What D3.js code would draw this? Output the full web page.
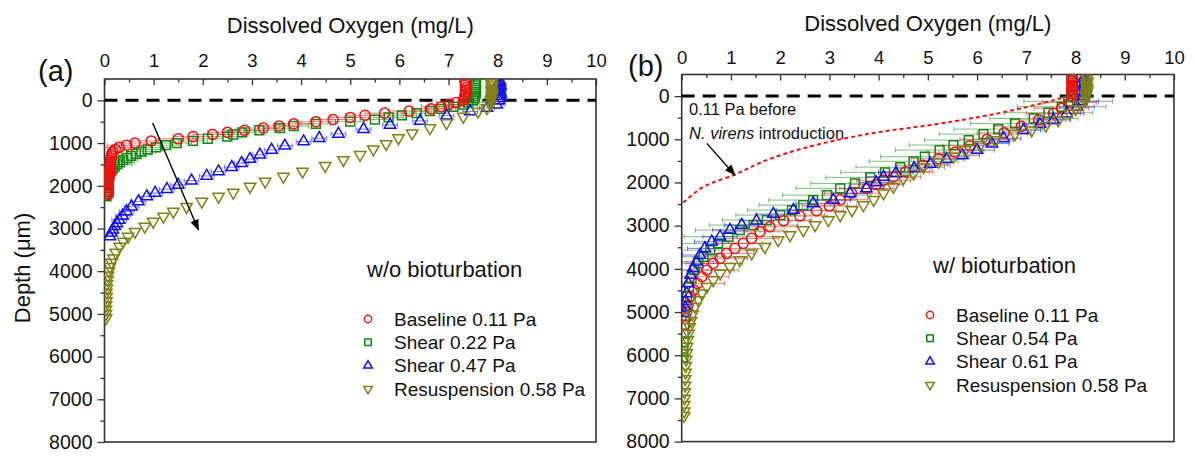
<!DOCTYPE html>
<html>
<head>
<meta charset="utf-8">
<script src="https://cdn.jsdelivr.net/npm/d3@7"></script>
<style>
  body { margin: 0; background: #fff; }
  svg text { font-family: "Liberation Sans", Arial, sans-serif; fill: #111; }
</style>
</head>
<body>
<svg id="chart" width="1195" height="456"></svg>
<script>
// ---- axis ticks ----
const xTicks = [0, 1, 2, 3, 4, 5, 6, 7, 8, 9, 10];
const xMinor = [0.5, 1.5, 2.5, 3.5, 4.5, 5.5, 6.5, 7.5, 8.5, 9.5];
const yTicks = [0, 1000, 2000, 3000, 4000, 5000, 6000, 7000, 8000];
const yMinor = [500, 1500, 2500, 3500, 4500, 5500, 6500, 7500];

// ---- panel (a): w/o bioturbation ----
const labelsA = ['Baseline 0.11 Pa', 'Shear 0.22 Pa', 'Shear 0.47 Pa', 'Resuspension 0.58 Pa'];
const errA = [0.4, 0.3, 0.15, 0];

const depthA1 = [-450,-400,-350,-300,-250,-200,-150,-100,-50,0,50,100,150,200,250,300,350,400,450,500,550,600,650,700,750,800,850,900,950,1000,1050,1100,1150,1200,1250,1300,1350,1400,1450,1500,1550,1600,1650,1700,1750,1800,1850,1900,1950,2000,2050,2100,2150,2200];
const doA1 = [7.33,7.35,7.34,7.36,7.35,7.34,7.35,7.33,7.32,7.3,7.15,7.0,6.85,6.65,6.2,5.7,5.3,5.0,4.65,4.3,3.85,3.55,3.23,2.85,2.5,2.2,1.8,1.5,0.95,0.62,0.45,0.3,0.22,0.17,0.15,0.14,0.13,0.12,0.12,0.11,0.11,0.1,0.1,0.1,0.09,0.09,0.09,0.08,0.08,0.08,0.08,0.08,0.08,0.08];

const depthA2 = [-450,-400,-350,-300,-250,-200,-150,-100,-50,0,50,100,150,200,250,300,350,400,450,500,550,600,650,700,750,800,850,900,950,1000,1050,1100,1150,1200,1250,1300,1350,1400,1450,1500,1550,1600,1650,1700,1750,1800,1850,1900,1950,2000,2050,2100,2150,2200,2250];
const doA2 = [7.55,7.56,7.55,7.54,7.55,7.56,7.55,7.54,7.53,7.5,7.4,7.3,7.1,6.85,6.62,6.35,6.05,5.78,5.5,5.0,4.3,3.85,3.57,3.15,2.8,2.62,2.5,2.1,1.8,1.47,1.25,1.05,0.88,0.75,0.64,0.54,0.46,0.38,0.31,0.26,0.21,0.17,0.14,0.11,0.1,0.09,0.08,0.07,0.06,0.06,0.05,0.05,0.05,0.04,0.04];

const depthA3 = [-450,-400,-350,-300,-250,-200,-150,-100,-50,0,100,180,260,360,480,575,675,785,885,965,1065,1160,1275,1375,1470,1565,1665,1770,1880,1980,2080,2170,2250,2370,2490,2600,2700,2800,2880,2950,3030,3100,3190];
const doA3 = [8.05,8.04,8.06,8.05,8.04,8.05,8.06,8.05,8.04,8.03,7.98,7.78,7.44,6.96,6.42,5.81,5.27,4.76,4.37,4.05,3.67,3.4,3.16,2.96,2.79,2.59,2.32,2.08,1.77,1.5,1.27,1.03,0.86,0.69,0.55,0.45,0.37,0.3,0.25,0.21,0.17,0.14,0.11];

const depthA4 = [-450,-400,-350,-300,-250,-200,-150,-100,-50,0,100,180,260,380,530,650,770,885,1020,1145,1275,1395,1535,1665,1785,1900,2020,2160,2255,2370,2490,2605,2720,2840,2955,3075,3190,3305,3425,3565,3700,3800,3900,4000,4100,4200,4300,4400,4500,4600,4700,4800,4900,5000,5100];
const doA4 = [7.88,7.87,7.89,7.88,7.87,7.88,7.89,7.88,7.87,7.86,7.85,7.78,7.6,7.3,6.96,6.62,6.26,5.98,5.73,5.47,5.2,4.86,4.49,4.03,3.64,3.27,2.96,2.62,2.32,1.98,1.67,1.4,1.2,0.99,0.82,0.62,0.48,0.38,0.31,0.23,0.18,0.14,0.11,0.09,0.07,0.06,0.05,0.05,0.04,0.04,0.04,0.03,0.03,0.03,0.03];

// arrow in (a): [DO, depth] start and end
const arrowA = [[0.98, 530], [1.91, 3030]];

// ---- panel (b): w/ bioturbation ----
const labelsB = ['Baseline 0.11 Pa', 'Shear 0.54 Pa', 'Shear 0.61 Pa', 'Resuspension 0.58 Pa'];
const errB = [0.55, 0.9, 0.35, 0];

const depthB1 = [-450,-400,-350,-300,-250,-200,-150,-100,-50,0,150,280,400,550,700,850,1000,1150,1300,1450,1600,1750,1870,1950,2050,2140,2250,2400,2546,2655,2778,2886,3025,3140,3295,3410,3526,3642,3757,3873,4028,4182,4336,4491,4645,4838,5000,5150,5300];
const doB1 = [7.93,7.94,7.92,7.93,7.94,7.93,7.92,7.93,7.94,7.93,7.88,7.72,7.55,7.25,6.9,6.55,6.2,5.85,5.55,5.22,4.9,4.55,4.3,4.1,3.95,3.76,3.45,3.22,3.0,2.74,2.4,2.07,1.79,1.59,1.42,1.25,1.08,0.91,0.78,0.64,0.51,0.41,0.32,0.25,0.18,0.13,0.1,0.08,0.06];

const depthB2 = [-450,-400,-350,-300,-250,-200,-150,-100,-50,0,120,247,386,517,633,764,880,1019,1134,1250,1404,1510,1645,1765,1883,2021,2137,2292,2407,2523,2639,2755,2870,2986,3102,3256,3410,3565,3719,3873,4028,4220,4414,4645,4877,5100,5300,5500,5700,5900,6050];
const doB2 = [7.93,7.92,7.94,7.93,7.92,7.93,7.94,7.93,7.92,7.91,7.85,7.72,7.45,7.15,6.77,6.43,6.13,5.83,5.52,5.24,4.94,4.71,4.44,4.13,3.83,3.52,3.22,2.95,2.67,2.47,2.24,2.0,1.73,1.46,1.18,0.95,0.74,0.58,0.44,0.34,0.26,0.2,0.15,0.11,0.08,0.06,0.05,0.04,0.04,0.03,0.03];

const depthB3 = [-450,-400,-350,-300,-250,-200,-150,-100,-50,0,120,250,400,550,650,790,980,1100,1250,1370,1460,1570,1670,1780,1870,2000,2137,2253,2407,2485,2639,2731,2886,2986,3102,3256,3372,3526,3680,3835,3990,4144,4336,4568,4750,4900,5020];
const doB3 = [8.18,8.17,8.19,8.18,8.17,8.18,8.19,8.18,8.17,8.16,8.12,8.03,7.82,7.55,7.28,6.94,6.54,6.3,6.0,5.7,5.38,5.05,4.72,4.35,4.1,3.95,3.75,3.42,3.08,2.67,2.27,1.86,1.52,1.22,0.98,0.78,0.61,0.47,0.37,0.3,0.23,0.18,0.13,0.1,0.08,0.07,0.06];

const depthB4 = [-450,-400,-350,-300,-250,-200,-150,-100,-50,0,100,200,300,400,560,680,790,880,1020,1135,1250,1400,1520,1640,1790,1910,2100,2250,2400,2523,2639,2755,2870,2986,3102,3218,3333,3488,3642,3796,3951,4105,4259,4414,4568,4722,4877,5050,5200,5350,5500,5650,5800,5950,6100,6250,6400,6550,6700,6850,7000,7150,7300,7400];
const doB4 = [8.23,8.22,8.24,8.23,8.22,8.23,8.24,8.23,8.22,8.21,8.2,8.1,8.0,7.88,7.65,7.4,7.11,6.77,6.37,6.06,5.76,5.52,5.22,4.91,4.71,4.5,4.3,4.1,3.9,3.69,3.46,3.22,2.98,2.71,2.47,2.2,1.96,1.69,1.42,1.18,0.98,0.78,0.64,0.51,0.41,0.34,0.27,0.22,0.19,0.16,0.14,0.12,0.11,0.1,0.09,0.08,0.08,0.07,0.07,0.06,0.06,0.05,0.05,0.05];

// 0.11 Pa profile before N. virens introduction (red dotted)
const beforeDepth = [0, 170, 480, 670, 830, 955, 1200, 1450, 1830, 2060, 2300, 2500];
const beforeDO = [7.85, 7.3, 6.06, 5.05, 4.03, 3.42, 2.5, 1.8, 1.05, 0.51, 0.2, 0];

// annotation in (b): text anchors and arrow, [DO, depth]
const noteB = [[0.15, 440], [0.15, 990]];
const arrowB = [[0.51, 1095], [1.08, 1826]];

// ---- styles ----
const colors = ['#ee1111', '#118811', '#1111ee', '#808015'];
const shapes = ['circle', 'square', 'up', 'down'];
const drawOrder = [1, 0, 2, 3];

const svg = d3.select('#chart');
const defs = svg.append('defs');
defs.append('marker')
  .attr('id', 'arrowhead')
  .attr('viewBox', '0 0 10 10')
  .attr('refX', 9).attr('refY', 5)
  .attr('markerWidth', 8).attr('markerHeight', 8)
  .attr('orient', 'auto')
  .append('path').attr('d', 'M0,1.2 L10,5 L0,8.8 Z').attr('fill', '#000');

function symbolPath(shape, big) {
  const s = {
    circle: [d3.symbolCircle, big ? 80 : 42],
    square: [d3.symbolSquare, big ? 78 : 42],
    up: [d3.symbolTriangle, big ? 56 : 32],
    down: [d3.symbolTriangle, big ? 56 : 32]
  }[shape];
  return d3.symbol().type(s[0]).size(s[1])();
}

function drawPanel(p) {
  const x = d3.scaleLinear().domain([0, 10]).range([p.left, p.right]);
  const y = d3.scaleLinear().domain([-500, 8000]).range([p.top, p.bottom]);
  const g = svg.append('g');

  defs.append('clipPath').attr('id', 'clip' + p.key)
    .append('rect')
    .attr('x', p.left).attr('y', p.top)
    .attr('width', p.right - p.left).attr('height', p.bottom - p.top);

  // title
  g.append('text')
    .attr('x', (p.left + p.right) / 2).attr('y', p.titleY)
    .attr('text-anchor', 'middle')
    .attr('font-size', 22)
    .text('Dissolved Oxygen (mg/L)');

  // panel letter
  g.append('text')
    .attr('x', p.letterX).attr('y', p.letterY)
    .attr('font-size', 29)
    .text(p.letter);

  // top axis (ticks inward)
  g.append('g').attr('transform', `translate(0,${p.top})`)
    .call(d3.axisTop(x).tickValues(xMinor).tickSize(-3.5).tickSizeOuter(0).tickFormat(''));
  const xa = g.append('g').attr('transform', `translate(0,${p.top})`)
    .call(d3.axisTop(x).tickValues(xTicks).tickSize(-6).tickSizeOuter(0).tickPadding(p.xPad));
  xa.selectAll('text').attr('font-size', 18.5).attr('font-family', '"Liberation Sans", Arial, sans-serif');

  // left axis (ticks outward)
  g.append('g').attr('transform', `translate(${p.left},0)`)
    .call(d3.axisLeft(y).tickValues(yMinor).tickSize(4).tickSizeOuter(0).tickFormat(''));
  const ya = g.append('g').attr('transform', `translate(${p.left},0)`)
    .call(d3.axisLeft(y).tickValues(yTicks).tickSize(7).tickSizeOuter(0).tickPadding(5).tickFormat(d3.format('d')));
  ya.selectAll('text').attr('font-size', 19.5).attr('font-family', '"Liberation Sans", Arial, sans-serif');

  g.selectAll('.domain').remove();
  g.selectAll('.tick line').attr('stroke', '#333').attr('stroke-width', 1.3);

  // frame
  g.append('rect')
    .attr('x', p.left).attr('y', p.top)
    .attr('width', p.right - p.left).attr('height', p.bottom - p.top)
    .attr('fill', 'none').attr('stroke', '#333').attr('stroke-width', 1.6);

  const plot = g.append('g').attr('clip-path', `url(#clip${p.key})`);

  // dashed sediment-water interface
  plot.append('line')
    .attr('x1', x(0)).attr('x2', x(10))
    .attr('y1', y(0)).attr('y2', y(0))
    .attr('stroke', '#000').attr('stroke-width', 3)
    .attr('stroke-dasharray', '13,8');

  if (p.before) {
    const line = d3.line()
      .x((d, i) => x(p.before.values[i]))
      .y(d => y(d))
      .curve(d3.curveMonotoneY);
    plot.append('path')
      .datum(p.before.depths)
      .attr('d', line)
      .attr('fill', 'none')
      .attr('stroke', '#ee1111')
      .attr('stroke-width', 2)
      .attr('stroke-dasharray', '4,3');
  }

  // error bars
  drawOrder.forEach(si => {
    const s = p.series[si];
    if (!s.err) return;
    const pts = s.depths.map((d, i) => ({ d, v: s.values[i] }))
      .filter(o => o.d > 0 && o.v > 0.25);
    const eg = plot.append('g')
      .attr('stroke', colors[si]).attr('stroke-opacity', 0.55).attr('stroke-width', 1);
    pts.forEach(o => {
      const xl = x(o.v - s.err), xr = x(o.v + s.err), yy = y(o.d);
      eg.append('line').attr('x1', xl).attr('x2', xr).attr('y1', yy).attr('y2', yy);
      eg.append('line').attr('x1', xl).attr('x2', xl).attr('y1', yy - 2.5).attr('y2', yy + 2.5);
      eg.append('line').attr('x1', xr).attr('x2', xr).attr('y1', yy - 2.5).attr('y2', yy + 2.5);
    });
  });

  // markers
  drawOrder.forEach(si => {
    const s = p.series[si];
    const pts = s.depths.map((d, i) => ({ d, v: s.values[i] }));
    plot.append('g').selectAll('path')
      .data(pts)
      .join('path')
      .attr('d', symbolPath(shapes[si], true))
      .attr('transform', o => `translate(${x(o.v)},${y(o.d)})` + (shapes[si] === 'down' ? ' rotate(180)' : ''))
      .attr('fill', 'none')
      .attr('stroke', colors[si])
      .attr('stroke-width', 1.5);
  });

  // arrow
  g.append('line')
    .attr('x1', x(p.arrow[0][0])).attr('y1', y(p.arrow[0][1]))
    .attr('x2', x(p.arrow[1][0])).attr('y2', y(p.arrow[1][1]))
    .attr('stroke', '#000').attr('stroke-width', 1.4)
    .attr('marker-end', 'url(#arrowhead)');

  // inner label
  g.append('text')
    .attr('x', p.tagX).attr('y', p.tagY)
    .attr('font-size', 22)
    .text(p.tag);

  // legend
  const lg = g.append('g');
  p.labels.forEach((lab, i) => {
    const yy = p.legY + i * 23.3;
    lg.append('path')
      .attr('d', symbolPath(shapes[i], false))
      .attr('transform', `translate(${p.legX},${yy})` + (shapes[i] === 'down' ? ' rotate(180)' : ''))
      .attr('fill', 'none').attr('stroke', colors[i]).attr('stroke-width', 1.5);
    lg.append('text')
      .attr('x', p.legX + 26).attr('y', yy).attr('dy', '0.35em')
      .attr('font-size', 19)
      .text(lab);
  });

  return { x, y, g };
}

drawPanel({
  key: 'a', left: 104.5, right: 596, top: 79, bottom: 442,
  titleY: 33, letter: '(a)', letterX: 38, letterY: 81, xPad: 12,
  series: [
    { depths: depthA1, values: doA1, err: errA[0] },
    { depths: depthA2, values: doA2, err: errA[1] },
    { depths: depthA3, values: doA3, err: errA[2] },
    { depths: depthA4, values: doA4, err: errA[3] }
  ],
  arrow: arrowA,
  tag: 'w/o bioturbation', tagX: 367, tagY: 277,
  labels: labelsA, legX: 368, legY: 319
});

const pb = drawPanel({
  key: 'b', left: 681.7, right: 1174, top: 74.5, bottom: 441.6,
  titleY: 31, letter: '(b)', letterX: 628, letterY: 76, xPad: 11,
  series: [
    { depths: depthB1, values: doB1, err: errB[0] },
    { depths: depthB2, values: doB2, err: errB[1] },
    { depths: depthB3, values: doB3, err: errB[2] },
    { depths: depthB4, values: doB4, err: errB[3] }
  ],
  before: { depths: beforeDepth, values: beforeDO },
  arrow: arrowB,
  tag: 'w/ bioturbation', tagX: 933, tagY: 273,
  labels: labelsB, legX: 930, legY: 315
});

// annotation text for the dotted profile
pb.g.append('text')
  .attr('x', pb.x(noteB[0][0])).attr('y', pb.y(noteB[0][1]))
  .attr('font-size', 16.5)
  .text('0.11 Pa before');
const t2 = pb.g.append('text')
  .attr('x', pb.x(noteB[1][0])).attr('y', pb.y(noteB[1][1]))
  .attr('font-size', 16.5);
t2.append('tspan').attr('font-style', 'italic').text('N. virens');
t2.append('tspan').text(' introduction');

// shared y label
svg.append('text')
  .attr('transform', 'translate(30,268) rotate(-90)')
  .attr('text-anchor', 'middle')
  .attr('font-size', 22)
  .text('Depth (\u03bcm)');
</script>
</body>
</html>
